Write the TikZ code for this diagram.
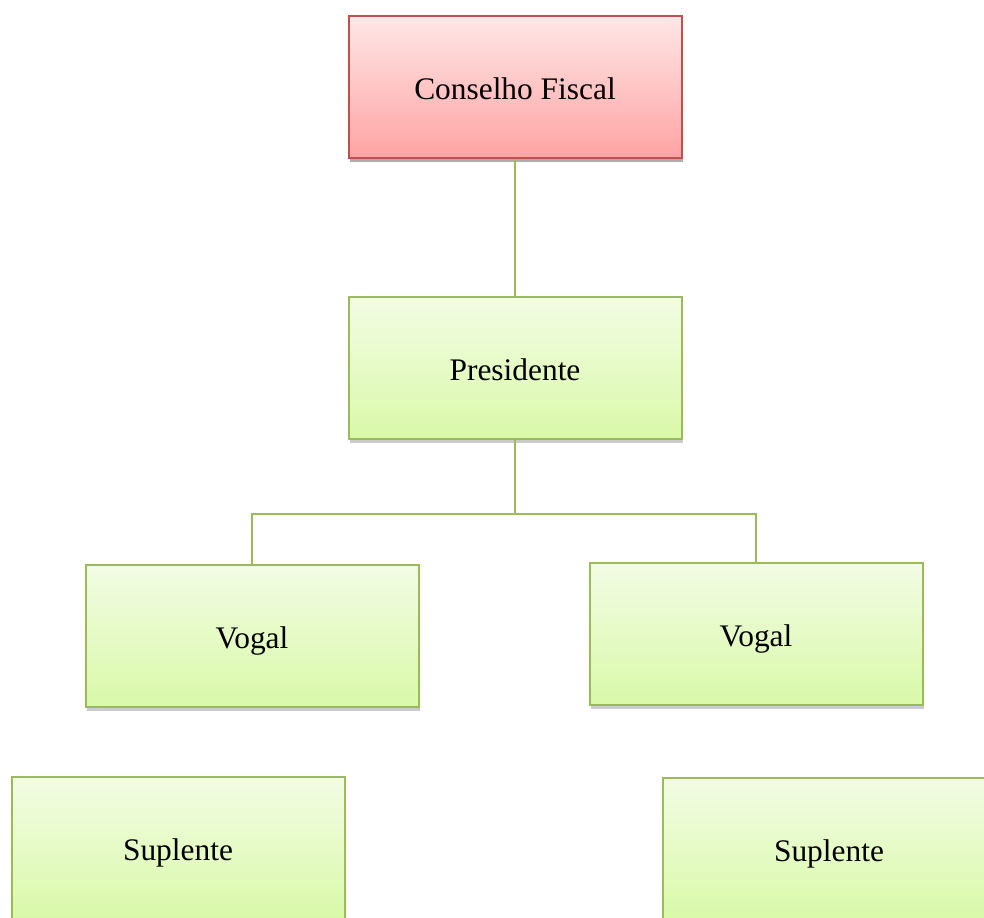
\documentclass[tikz,border=0pt]{standalone}
\usepackage{fontspec}
\setmainfont{Liberation Serif}
\usepackage{tikz}
\usetikzlibrary{positioning,shadows}

\definecolor{redline}{RGB}{192,80,77}
\definecolor{redtop}{RGB}{255,231,231}
\definecolor{redbot}{RGB}{255,163,163}
\definecolor{greenline}{RGB}{155,187,89}
\definecolor{greentop}{RGB}{242,252,228}
\definecolor{greenbot}{RGB}{217,249,168}

\tikzset{
  orgbox/.style={rectangle,inner sep=0pt,minimum width=166.5pt,minimum height=71pt,
    text height=12pt,text depth=0pt,
    line width=1pt,font=\fontsize{15.7}{19}\selectfont,
    drop shadow={shadow xshift=0.8pt,shadow yshift=-1.8pt,opacity=0.4}},
  redbox/.style={orgbox,draw=redline,top color=redtop,bottom color=redbot},
  greenbox/.style={orgbox,draw=greenline,top color=greentop,bottom color=greenbot}
}

\begin{document}
\begin{tikzpicture}[x=0.5pt,y=-0.5pt]
    \useasboundingbox (0,0) rectangle (984,917);
    \clip (0,0) rectangle (984,917);

    %Boxes
     \begin{scope}[every node/.style={greenbox}]
       \node[redbox] (conselho) at (515,87) {Conselho Fiscal};
       \node (presidente) at (515,368) {Presidente};
       \node (vogal1) at (252,636) {Vogal};
       \node (vogal2) at (756,634) {Vogal};
       \node (suplente1) at (178,848) {Suplente};
       \node (suplente2) at (829,849) {Suplente};
    \end{scope}

    \coordinate (fork) at (515,514);

    %Connectors
    \begin{scope}[every path/.style={draw=greenline,line width=1pt}]
      \path (conselho) -- (presidente);
      \path (presidente) -- (fork);
      \path (fork) -| (vogal1);
      \path (fork) -| (vogal2);
    \end{scope}
  \end{tikzpicture}
\end{document}
